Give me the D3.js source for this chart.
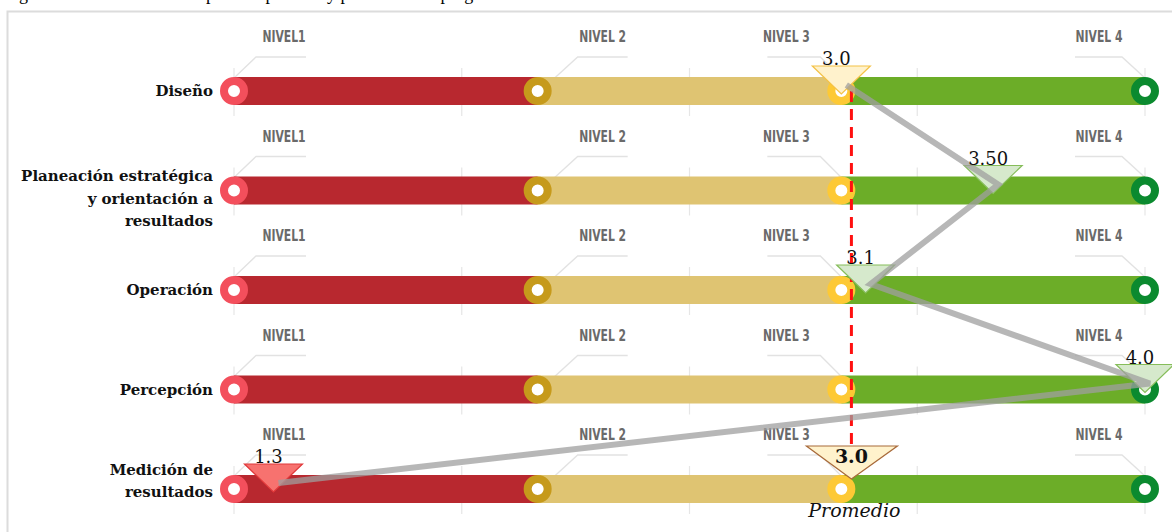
<!DOCTYPE html>
<html lang="es">
<head>
<meta charset="UTF-8">
<title>Nivel por componente</title>
<script src="https://d3js.org/d3.v7.min.js"></script>
<style>
  body { margin: 0; background: #fff; }
  svg text { font-family: "DejaVu Serif", serif; }
</style>
</head>
<body>
<svg width="1172" height="532"></svg>
<script>
// data
const components = ["Diseño", "Planeación estratégica y orientación a resultados", "Operación", "Percepción", "Medición de resultados"];
const componentLines = [["Diseño"], ["Planeación estratégica", "y orientación a", "resultados"], ["Operación"], ["Percepción"], ["Medición de", "resultados"]];
const levels = [1, 2, 3, 4];
const levelLabels = ["NIVEL1", "NIVEL 2", "NIVEL 3", "NIVEL 4"];
const scoreLabels = ["3.0", "3.50", "3.1", "4.0", "1.3"];
const scorePositions = [3.0, 3.5, 3.08, 4.0, 1.13];   // where the markers sit in the picture
const averageLabel = "3.0";
const averagePosition = 3.02;

const colors = {
  bar: ["#b8282f", "#dfc472", "#6cad28"],
  ring: ["#f34f5c", "#c69a1b", "#fdc935", "#0b8a2f"],
  marker: { red: ["#f7726f", "#e0383a"], yellow: ["#fff2cc", "#f4c246"], green: ["#d6e9cc", "#86bd5a"] }
};
// label placement relative to each level point: text centre, leader start/end
const leaderLayout = [
  { text: 50, h0: 22, h1: 72, end: 0 },
  { text: 65, h0: 40, h1: 90, end: 17 },
  { text: -55, h0: -74, h1: -21, end: 0 },
  { text: -46, h0: -70, h1: -23, end: 0 }
];

const svg = d3.select("svg");
const x = d3.scaleLinear().domain([1, 4]).range([234, 1145]);
const grid = d3.scaleLinear().domain([0, 4]).range([x(1), x(4)]);
const y = d3.scalePoint().domain(components).range([91, 489]);
const barH = 28;

// caption, mostly cut off at the top
svg.append("text").attr("x", 4).attr("y", 0)
  .style("font-size", "18px").style("font-family", "Liberation Serif, serif")
  .text("Figura 2. Nivel de madurez por componente y promedio del programa");

// frame
svg.append("rect").attr("x", 7.5).attr("y", 11.5).attr("width", 1180).attr("height", 540)
  .attr("fill", "none").attr("stroke", "#dcdcdc").attr("stroke-width", 2);

components.forEach((c, i) => {
  const cy = y(c);
  const g = svg.append("g");

  // vertical grid
  g.selectAll(".grid").data(grid.ticks(4)).enter().append("line")
    .attr("x1", d => grid(d)).attr("x2", d => grid(d))
    .attr("y1", cy - 23).attr("y2", cy + 25)
    .attr("stroke", "#e6e6e6").attr("stroke-width", 1.2);

  // level labels with leaders
  levels.forEach((lv, j) => {
    const lx = x(lv), L = leaderLayout[j];
    g.append("text")
      .attr("transform", `translate(${lx + L.text},${cy - 49}) scale(0.8,1)`)
      .attr("text-anchor", "middle")
      .style("font-family", "'DejaVu Sans Condensed', 'DejaVu Sans', sans-serif")
      .style("font-size", "15px").style("font-weight", "bold").attr("fill", "#6a6a6a")
      .text(levelLabels[j]);
    g.append("polyline")
      .attr("points", j < 2
        ? `${lx + L.h1},${cy - 34} ${lx + L.h0},${cy - 34} ${lx + L.end},${cy - 13}`
        : `${lx + L.h0},${cy - 34} ${lx + L.h1},${cy - 34} ${lx + L.end},${cy - 13}`)
      .attr("fill", "none").attr("stroke", "#e2e2e2").attr("stroke-width", 1.3);
  });

  // bar segments
  levels.slice(0, 3).forEach((lv, j) => {
    g.append("rect").attr("x", x(lv)).attr("y", cy - barH / 2)
      .attr("width", x(lv + 1) - x(lv)).attr("height", barH)
      .attr("fill", colors.bar[j]);
  });

  // level rings
  g.selectAll(".ring").data(levels).enter().append("circle")
    .attr("cx", d => x(d)).attr("cy", cy).attr("r", 10)
    .attr("fill", "#fff").attr("stroke", (d, j) => colors.ring[j]).attr("stroke-width", 8);

  // row label
  const lines = componentLines[i];
  const lh = 22.5;
  g.append("text").attr("text-anchor", "end")
    .style("font-size", "15px").style("font-weight", "bold").attr("fill", "#111")
    .selectAll("tspan").data(lines).enter().append("tspan")
    .attr("x", 213)
    .attr("y", (d, k) => cy + 5 + (k - (lines.length - 1) / 2) * lh + (lines.length === 3 ? 8 : (lines.length === 2 ? -8 : 0)))
    .text(d => d);
});

// connecting line between markers
const markerColor = v => v < 2 ? colors.marker.red : (v <= 3 ? colors.marker.yellow : colors.marker.green);
const pts = components.map((c, i) => [x(scorePositions[i]) + 5, y(c) - 6]);

// red dashed average line
svg.append("line")
  .attr("x1", x(averagePosition) + 4).attr("x2", x(averagePosition) + 4)
  .attr("y1", y(components[0])).attr("y2", y(components[4]) - 43)
  .attr("stroke", "#ff1010").attr("stroke-width", 3).attr("stroke-dasharray", "11,7");

// markers
components.forEach((c, i) => {
  const cx = x(scorePositions[i]), cy = y(c), col = markerColor(scorePositions[i]);
  svg.append("path")
    .attr("d", `M${cx - 29},${cy - 25} L${cx + 29},${cy - 25} L${cx},${cy + 3} Z`)
    .attr("fill", col[0]).attr("stroke", col[1]).attr("stroke-width", 1.2);
});

svg.append("path").datum(pts)
  .attr("d", d3.line())
  .attr("fill", "none").attr("stroke", "#9f9f9f").attr("stroke-opacity", 0.75)
  .attr("stroke-width", 6);

components.forEach((c, i) => {
  svg.append("text").attr("x", x(scorePositions[i]) - 5).attr("y", y(c) - 26)
    .attr("text-anchor", "middle").style("font-size", "18px").attr("fill", "#111")
    .text(scoreLabels[i]);
});

// average marker
const ax = x(averagePosition) + 4, ay = y(components[4]);
svg.append("path")
  .attr("d", `M${ax - 45},${ay - 43} L${ax + 46},${ay - 43} L${ax},${ay - 10} Z`)
  .attr("fill", "#fff2cc").attr("stroke", "#a86a3a").attr("stroke-width", 1.2);
svg.append("text").attr("x", ax).attr("y", ay - 26).attr("text-anchor", "middle")
  .style("font-size", "19px").style("font-weight", "bold").attr("fill", "#111")
  .text(averageLabel);
svg.append("text").attr("x", ax + 3).attr("y", ay + 28).attr("text-anchor", "middle")
  .style("font-size", "19px").style("font-style", "italic").attr("fill", "#111")
  .text("Promedio");
</script>
</body>
</html>
